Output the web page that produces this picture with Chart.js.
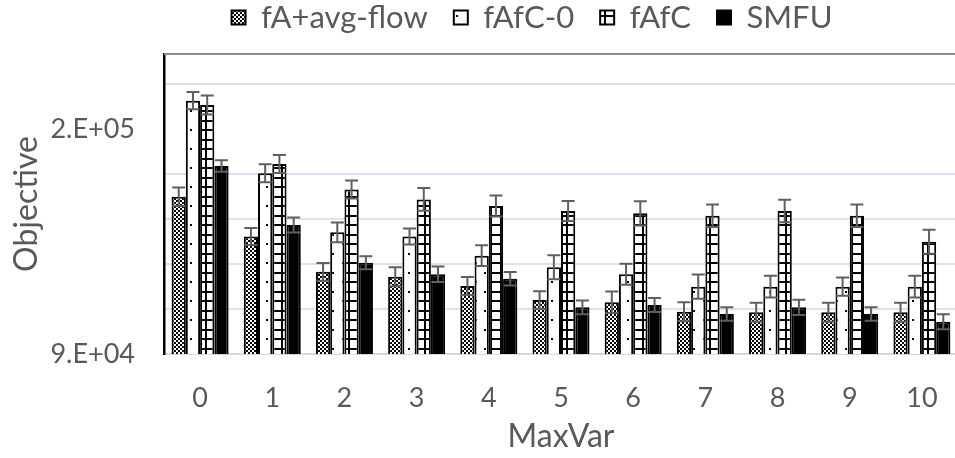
<!DOCTYPE html>
<html><head><meta charset="utf-8">
<script src="https://cdn.jsdelivr.net/npm/chart.js@4"></script>
<style>html,body{margin:0;padding:0;background:#fff;overflow:hidden}#wrap{width:958px;height:458px}</style>
</head><body><div id="wrap"><canvas id="c" width="958" height="458"></canvas></div>
<script>
const categories = ['0','1','2','3','4','5','6','7','8','9','10'];
const seriesNames = ['fA+avg-flow','fAfC-0','fAfC','SMFU'];
const fAavgFlow    = [166900,147400,130200,127800,123300,116400,115300,110700,110400,110400,110400];
const fAavgFlowErr = [4570,4160,4330,4650,4400,4230,5210,4650,4650,4650,4650];
const fAfC0        = [213900,178400,149500,147400,138100,132400,129000,122900,122900,122900,122900];
const fAfC0Err     = [4230,4400,4820,3910,5060,5870,5130,5940,5310,4470,5310];
const fAfC         = [211800,182900,170500,165600,162400,159900,158800,157600,159900,157600,144900];
const fAfCErr      = [4650,4400,4400,5550,5130,4890,5940,5550,5480,5550,5870];
const smfu         = [181900,153100,134600,129000,126800,112800,114000,109600,112800,109600,105800];
const smfuErr      = [2840,3670,3180,3840,3350,3420,3420,3280,3740,3280,3670];
const yMin = 90000, yMax = 236700;
const yLabelValues = [90000, 200000];
const yLabelTexts = ['9.E+04', '2.E+05'];
const yGridValues = [112000, 134000, 156000, 178000, 222000];
const xTitle = 'MaxVar', yTitle = 'Objective';

function tile(size, draw){
  const t = document.createElement('canvas');
  t.width = size; t.height = size;
  const g = t.getContext('2d');
  g.fillStyle = '#fff'; g.fillRect(0,0,size,size);
  g.fillStyle = '#000';
  draw(g);
  return document.getElementById('c').getContext('2d').createPattern(t,'repeat');
}
const checkerPat = tile(4, g => { g.fillRect(0,0,2,2); g.fillRect(2,2,2,2); });
const dotPat = tile(19, g => { g.fillRect(0,15,2,2); g.fillRect(9,6,2,2); });
const gridPat = tile(19, g => { g.fillRect(6,0,2,19); g.fillRect(15,0,2,19); g.fillRect(0,6,19,2); g.fillRect(0,15,19,2); });

const errorBars = {
  id: 'errorBars',
  afterDatasetsDraw(chart){
    const ctx = chart.ctx, ys = chart.scales.y;
    chart.data.datasets.forEach((ds, i) => {
      const meta = chart.getDatasetMeta(i);
      meta.data.forEach((bar, j) => {
        const v = ds.data[j], e = ds.errors[j];
        const yt = ys.getPixelForValue(v + e), yb = ys.getPixelForValue(v - e);
        const hw = 6.5, x = bar.x;
        ctx.save();
        ctx.strokeStyle = '#5f5f5f'; ctx.lineWidth = 2;
        ctx.beginPath();
        ctx.moveTo(x, yt); ctx.lineTo(x, yb);
        ctx.moveTo(x - hw, yt); ctx.lineTo(x + hw, yt);
        ctx.moveTo(x - hw, yb); ctx.lineTo(x + hw, yb);
        ctx.stroke();
        ctx.restore();
      });
    });
  }
};
const frame = {
  id: 'frame',
  afterDatasetsDraw(chart){
    const {ctx, chartArea: a} = chart;
    ctx.save();
    ctx.strokeStyle = '#8c8c8c'; ctx.lineWidth = 2;
    ctx.beginPath(); ctx.moveTo(a.left, a.top); ctx.lineTo(a.right + 5, a.top); ctx.stroke();
    ctx.restore();
  }
};
const legendShift = {
  id: 'legendShift',
  afterLayout(chart){
    const l = chart.legend; const dx = 53, dy = -11;
    l.left += dx; l.right += dx; l.top += dy; l.bottom += dy;
  }
};

const FONT = 'Lato';
new Chart(document.getElementById('c'), {
  type: 'bar',
  data: {
    labels: categories,
    datasets: [
      {label: seriesNames[0], data: fAavgFlow, errors: fAavgFlowErr, backgroundColor: checkerPat, borderColor: '#000', borderWidth: 2},
      {label: seriesNames[1], data: fAfC0, errors: fAfC0Err, backgroundColor: dotPat, borderColor: '#000', borderWidth: 2},
      {label: seriesNames[2], data: fAfC, errors: fAfCErr, backgroundColor: gridPat, borderColor: '#000', borderWidth: 2},
      {label: seriesNames[3], data: smfu, errors: smfuErr, backgroundColor: '#000', borderColor: '#000', borderWidth: 2}
    ]
  },
  options: {
    responsive: false,
    animation: false,
    devicePixelRatio: 1,
    layout: {padding: {top: -13, left: 0, right: 0, bottom: 0}},
    datasets: {bar: {categoryPercentage: 0.79, barPercentage: 1.0}},
    plugins: {
      legend: {
        position: 'top',
        labels: {font: {family: FONT, size: 31}, color: '#595959', boxWidth: 14, boxHeight: 14, padding: 26}
      },
      tooltip: {enabled: false}
    },
    scales: {
      x: {
        grid: {display: false},
        border: {color: '#d9d9d9', width: 2},
        ticks: {font: {family: FONT, size: 27}, color: '#595959', padding: 20},
        title: {display: true, text: xTitle, font: {family: FONT, size: 32}, color: '#595959', padding: {top: 0, bottom: 2}},
        afterFit(s){ s.height = 104; }
      },
      y: {
        min: yMin, max: yMax,
        afterBuildTicks(s){ s.ticks = yLabelValues.concat(yGridValues).sort((a,b)=>a-b).map(v => ({value: v})); },
        grid: {drawTicks: false, lineWidth: 2, color: c => yGridValues.includes(c.tick && c.tick.value) ? '#dae3f3' : 'rgba(0,0,0,0)'},
        border: {color: '#000', width: 2.5},
        ticks: {
          font: {family: FONT, size: 27}, color: '#595959', padding: 29,
          callback: v => { const k = yLabelValues.indexOf(v); return k >= 0 ? yLabelTexts[k] : ''; }
        },
        title: {display: true, text: yTitle, font: {family: FONT, size: 32}, color: '#595959', padding: {top: 7, bottom: 0}},
        afterFit(s){ s.width = 164; }
      }
    }
  },
  plugins: [errorBars, frame, legendShift]
});
</script>
</body></html>
